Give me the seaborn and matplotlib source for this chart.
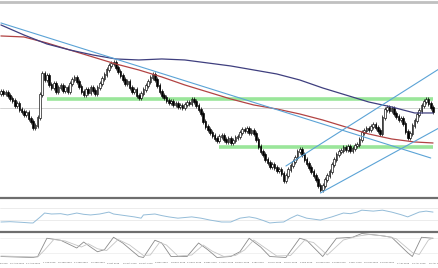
import numpy as np
import pandas as pd
import seaborn as sns
import matplotlib.pyplot as plt

# --- price data (daily candles) ---
first_open = 1.106
closes = [
    1.108, 1.106, 1.107, 1.104, 1.101, 1.099, 1.094, 1.096, 1.090, 1.088,
    1.085, 1.087, 1.081, 1.078, 1.072, 1.074, 1.082, 1.105, 1.126, 1.120,
    1.124, 1.115, 1.112, 1.116, 1.108, 1.112, 1.114, 1.109, 1.112, 1.108,
    1.116, 1.120, 1.122, 1.118, 1.113, 1.108, 1.105, 1.110, 1.107, 1.112,
    1.109, 1.106, 1.112, 1.116, 1.121, 1.125, 1.130, 1.134, 1.136, 1.137,
    1.132, 1.128, 1.124, 1.120, 1.116, 1.118, 1.112, 1.108, 1.110, 1.104,
    1.102, 1.106, 1.110, 1.114, 1.118, 1.122, 1.125, 1.120, 1.114, 1.108,
    1.104, 1.102, 1.099, 1.097, 1.098, 1.095, 1.096, 1.093, 1.094, 1.092,
    1.095, 1.097, 1.096, 1.100, 1.098, 1.094, 1.090, 1.086, 1.078, 1.073,
    1.070, 1.067, 1.064, 1.061, 1.059, 1.063, 1.064, 1.060, 1.058, 1.061,
    1.057, 1.059, 1.062, 1.063, 1.067, 1.070, 1.069, 1.071, 1.067, 1.069,
    1.066, 1.060, 1.053, 1.048, 1.045, 1.040, 1.037, 1.033, 1.035, 1.032,
    1.029, 1.030, 1.026, 1.019, 1.024, 1.030, 1.034, 1.038, 1.042, 1.048,
    1.050, 1.045, 1.040, 1.036, 1.032, 1.028, 1.024, 1.020, 1.014, 1.010,
    1.014, 1.020, 1.024, 1.028, 1.035, 1.040, 1.045, 1.048, 1.049, 1.052,
    1.050, 1.053, 1.049, 1.051, 1.054, 1.055, 1.060, 1.067, 1.069, 1.071,
    1.070, 1.073, 1.075, 1.072, 1.069, 1.066, 1.082, 1.090, 1.092, 1.089,
    1.091, 1.086, 1.083, 1.080, 1.081, 1.076, 1.068, 1.062, 1.066, 1.074,
    1.079, 1.085, 1.089, 1.094, 1.098, 1.100, 1.096, 1.092, 1.088,
]
wick = 0.0025

# moving averages (sampled every 10 bars)
ma_bars = [0, 10, 20, 30, 40, 50, 60, 70, 80, 90, 100, 110, 120, 130, 140, 150, 160, 170, 180, 188]
ma_red = [1.164, 1.163, 1.157, 1.150, 1.143, 1.136, 1.130, 1.123, 1.115, 1.108,
          1.101, 1.095, 1.091, 1.086, 1.080, 1.073, 1.066, 1.061, 1.058, 1.057]
ma_navy = [1.175, 1.165, 1.156, 1.150, 1.145, 1.141, 1.140, 1.141, 1.140, 1.137,
           1.134, 1.130, 1.126, 1.120, 1.112, 1.105, 1.098, 1.093, 1.087, 1.087]

# trend lines and support / resistance levels
trend_down = ([0, 187], [1.177, 1.042])
chan_low = ([139, 190.6], [1.007, 1.072])
chan_high = ([124, 190.6], [1.034, 1.131])
levels = [1.1005, 1.053]
level_start = [20, 95]
level_end = 188
price_line = 1.092

# RSI
rsi_bars = [0, 4, 9, 13, 14, 17, 19, 22, 26, 29, 33, 36, 39, 43, 47, 49, 52, 55, 58, 61,
            62, 67, 70, 73, 77, 80, 83, 87, 91, 96, 100, 104, 108, 111, 114, 117, 120, 123,
            126, 129, 133, 136, 139, 144, 149, 152, 155, 157, 162, 166, 170, 174, 177, 179,
            182, 185, 188]
rsi_vals = [25, 26, 24, 22, 22, 40, 53, 50, 51, 47, 53, 49, 47, 50, 56, 50, 47, 44, 41, 37,
            47, 50, 45, 41, 37, 39, 41, 37, 31, 25, 25, 37, 41, 37, 30, 22, 24, 25,
            37, 47, 37, 34, 31, 41, 53, 51, 56, 62, 59, 62, 56, 48, 41, 47,
            56, 59, 56]

# stochastic %K / %D
stk_bars = [0, 14, 16, 20, 26, 33, 36, 39, 42, 45, 49, 53, 60, 62, 67, 70, 74, 81, 86, 90,
            94, 100, 104, 108, 113, 117, 124, 130, 133, 140, 146, 153, 157, 165, 170, 177,
            179, 183, 188]
stk_k = [4, 0, 4, 77, 69, 38, 62, 42, 23, 31, 81, 58, 4, 0, 69, 58, 4, 4, 58, 31,
         0, 4, 23, 77, 42, 4, 0, 77, 69, 4, 77, 81, 96, 88, 81, 19,
         4, 81, 77]
std_bars = [0, 16, 19, 23, 28, 35, 38, 42, 46, 51, 56, 62, 65, 69, 72, 77, 83, 88, 92, 97,
            102, 106, 110, 115, 120, 126, 132, 136, 142, 149, 155, 160, 167, 172, 179, 182,
            186, 188]
std_d = [6, 2, 30, 72, 66, 42, 55, 35, 28, 72, 50, 8, 10, 60, 50, 6, 10, 50, 25, 4,
         8, 30, 70, 38, 6, 8, 68, 60, 10, 70, 85, 92, 86, 75, 20, 12,
         70, 78]

tick_bars = list(range(0, 190, 7))
tick_labels = ["3 Aug 2015", "12 Aug 2015", "21 Aug 2015", "1 Sep 2015", "10 Sep 2015",
               "21 Sep 2015", "30 Sep 2015", "9 Oct 2015", "20 Oct 2015", "29 Oct 2015",
               "9 Nov 2015", "18 Nov 2015", "27 Nov 2015", "8 Dec 2015", "17 Dec 2015",
               "28 Dec 2015", "6 Jan 2016", "15 Jan 2016", "26 Jan 2016", "4 Feb 2016",
               "15 Feb 2016", "24 Feb 2016", "4 Mar 2016", "15 Mar 2016", "24 Mar 2016",
               "4 Apr 2016", "13 Apr 2016", "22 Apr 2016"]

# --- build frames ---
df = pd.DataFrame({"close": closes})
df["bar"] = np.arange(len(df))
df["open"] = [first_open] + closes[:-1]
df["lo"] = df[["open", "close"]].min(axis=1)
df["hi"] = df[["open", "close"]].max(axis=1)
ma_df = pd.DataFrame({"bar": ma_bars, "red": ma_red, "navy": ma_navy})

sns.set_theme(style="white")
plt.rcParams["font.family"] = ["DejaVu Sans"]

fig = plt.figure(figsize=(4.39, 2.68), dpi=100)
ax = fig.add_axes([0, 0.2687, 1, 0.724])
ax_rsi = fig.add_axes([0, 0.1418, 1, 0.1194], sharex=ax)
ax_st = fig.add_axes([0, 0.0373, 1, 0.097], sharex=ax)

XMIN, XMAX = -0.4, 190.6

# candles
ax.vlines(df["bar"], df["lo"] - wick, df["hi"] + wick, color="black", lw=0.5, zorder=3)
up = df[df["close"] >= df["open"]]
dn = df[df["close"] < df["open"]]
ax.bar(up["bar"], up["hi"] - up["lo"] + 0.0006, bottom=up["lo"], width=0.7,
       color="white", edgecolor="black", linewidth=0.45, zorder=4)
ax.bar(dn["bar"], dn["hi"] - dn["lo"] + 0.0006, bottom=dn["lo"], width=0.7,
       color="black", edgecolor="black", linewidth=0.45, zorder=4)

# levels
ax.axhline(price_line, color="#cccccc", lw=0.6, zorder=1)
for lv, st in zip(levels, level_start):
    ax.plot([st, level_end], [lv, lv], color="#9ae69a", lw=2.6, solid_capstyle="butt", zorder=2)

# moving averages
sns.lineplot(data=ma_df, x="bar", y="red", ax=ax, color="#b24343", lw=0.9, zorder=5)
sns.lineplot(data=ma_df, x="bar", y="navy", ax=ax, color="#3f3f7f", lw=0.9, zorder=5)

# trend lines
for xs, ys in (trend_down, chan_low, chan_high):
    ax.plot(xs, ys, color="#5ba3d6", lw=0.8, zorder=5)

ax.set_ylim(1.004, 1.198)
ax.set_xlim(XMIN, XMAX)
ax.set_xlabel("")
ax.set_ylabel("")
ax.set_yticks([])
for s in ["left", "right", "bottom"]:
    ax.spines[s].set_visible(False)
ax.spines["top"].set_color("#c0c0c0")
ax.spines["top"].set_linewidth(2)
ax.tick_params(axis="x", labelbottom=False, length=0)

# RSI panel
sns.lineplot(x=rsi_bars, y=rsi_vals, ax=ax_rsi, color="#94bcd8", lw=0.7)
for lv in (70, 30):
    ax_rsi.axhline(lv, color="#e4e4e4", lw=0.5, zorder=0)
ax_rsi.set_ylim(0, 100)
ax_rsi.set_yticks([])
ax_rsi.tick_params(axis="x", labelbottom=False, length=0)

# stochastic panel
sns.lineplot(x=stk_bars, y=stk_k, ax=ax_st, color="#8a8a8a", lw=0.6)
sns.lineplot(x=std_bars, y=std_d, ax=ax_st, color="#c4c4c4", lw=0.6)
for lv in (80, 20):
    ax_st.axhline(lv, color="#ececec", lw=0.5, zorder=0)
ax_st.set_ylim(-2, 102)
ax_st.set_yticks([])
ax_st.set_xticks(tick_bars)
ax_st.set_xticklabels(tick_labels, fontsize=1.65, color="#555555")
ax_st.tick_params(axis="x", length=1.5, width=0.4, color="#aaaaaa", pad=1.6)

for a in (ax_rsi, ax_st):
    for s in ["left", "right", "bottom"]:
        a.spines[s].set_visible(False)
    a.spines["top"].set_color("#6e6e6e")
    a.spines["top"].set_linewidth(1.6)
    a.set_xlabel("")
    a.set_ylabel("")
    a.set_xlim(XMIN, XMAX)

fig.savefig("out.png", dpi=100)
